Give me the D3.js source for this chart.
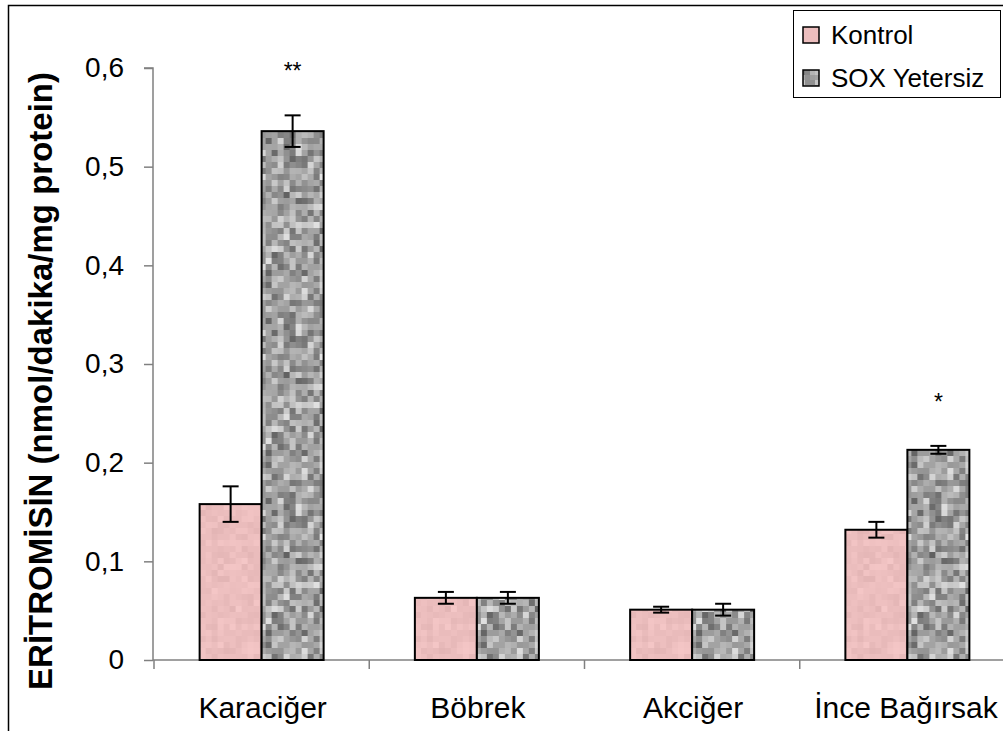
<!DOCTYPE html>
<html>
<head>
<meta charset="utf-8">
<script src="https://cdn.jsdelivr.net/npm/d3@7"></script>
<style>
  html, body { margin: 0; padding: 0; background: #fff; }
  svg { display: block; font-family: "Liberation Sans", Arial, sans-serif; }
</style>
</head>
<body>
<svg id="chart" width="1003" height="731"></svg>
<script>
// ---- data ----
const categories = ["Karaciğer", "Böbrek", "Akciğer", "İnce Bağırsak"];
const seriesNames = ["Kontrol", "SOX Yetersiz"];
const kontrol = [0.158, 0.063, 0.051, 0.132];
const kontrolErr = [0.018, 0.006, 0.003, 0.008];
const sox = [0.536, 0.063, 0.051, 0.213];
const soxErr = [0.016, 0.006, 0.006, 0.004];
const significance = ["**", "", "", "*"];
const yTicks = [0, 0.1, 0.2, 0.3, 0.4, 0.5, 0.6];
const yTitle = "ERİTROMİSİN (nmol/dakika/mg protein)";

// ---- setup ----
const svg = d3.select("#chart");
const defs = svg.append("defs");

// deterministic hash for texture cells (style only)
function hash(i, j, s) {
  let h = (i * 374761393 + j * 668265263 + s * 2246822519) >>> 0;
  h = ((h ^ (h >>> 13)) * 1274126177) >>> 0;
  return ((h ^ (h >>> 16)) >>> 0) / 4294967295;
}
function makePattern(id, cell, n, colorFn, seed) {
  const p = defs.append("pattern").attr("id", id)
    .attr("patternUnits", "userSpaceOnUse")
    .attr("width", cell * n).attr("height", cell * n);
  for (let i = 0; i < n; i++) for (let j = 0; j < n; j++) {
    p.append("rect").attr("x", i * cell).attr("y", j * cell)
      .attr("width", cell).attr("height", cell)
      .attr("fill", colorFn(hash(i, j, seed), hash(j, i, seed + 11)));
  }
}
makePattern("pinkTex", 6, 30, (r, r2) => {
  const d = Math.round((r + r2 - 1) * 10);
  return `rgb(${236 + Math.min(d, 8)},${190 + d},${190 + d})`;
}, 1);
makePattern("grayTex", 6, 30, (r, r2) => {
  const g = Math.round(163 + (r + r2 - 1) * 70);
  return `rgb(${g},${g},${g})`;
}, 7);
makePattern("grayTexLeg", 5, 4, (r, r2) => {
  const g = Math.round(160 + (r + r2 - 1) * 60);
  return `rgb(${g},${g},${g})`;
}, 3);

// frame
svg.append("rect").attr("x", 8.5).attr("y", 5.5).attr("width", 1010).attr("height", 740)
  .attr("fill", "none").attr("stroke", "#000").attr("stroke-width", 1.5);

const x0 = d3.scaleBand().domain(categories).range([154, 1015]).paddingInner(0).paddingOuter(0);
const x1 = d3.scaleBand().domain(seriesNames).range([0, 124]);
const groupOffset = (x0.bandwidth() - 124) / 2;
const y = d3.scaleLinear().domain([0, 0.6]).range([660, 68]);

// axes
const axisColor = "#808080";
const yAxis = svg.append("g").attr("transform", "translate(153,0)")
  .call(d3.axisLeft(y).tickValues(yTicks).tickSize(9).tickPadding(20)
    .tickFormat(d => d3.format(".1f")(d).replace(".", ",").replace(/^0,0$/, "0")));
yAxis.select(".domain").attr("stroke", axisColor).attr("stroke-width", 1.5).attr("d", `M-9,${y(0.6)}H0V${y(0)}`);
yAxis.selectAll(".tick line").attr("stroke", axisColor).attr("stroke-width", 1.5);
yAxis.selectAll(".tick text").attr("font-size", 28).attr("fill", "#000")
  .attr("font-family", "Liberation Sans, Arial, sans-serif");

// x axis line & separators
const bounds = categories.map(c => x0(c)).concat([x0.range()[1]]);
svg.append("line").attr("x1", 153).attr("x2", 1015).attr("y1", y(0)).attr("y2", y(0))
  .attr("stroke", axisColor).attr("stroke-width", 1.5);
svg.append("g").selectAll("line").data(bounds).join("line")
  .attr("x1", d => d).attr("x2", d => d).attr("y1", y(0)).attr("y2", y(0) + 9)
  .attr("stroke", axisColor).attr("stroke-width", 1.5);

// category labels
svg.append("g").selectAll("text").data(categories).join("text")
  .attr("x", d => Math.min(x0(d) + x0.bandwidth() / 2 + 1, 906))
  .attr("y", 718)
  .attr("text-anchor", "middle").attr("font-size", 30).attr("fill", "#000")
  .text(d => d);

// bars
const rows = categories.map((c, i) => ({
  cat: c,
  vals: [
    { s: "Kontrol", v: kontrol[i], e: kontrolErr[i], fill: "url(#pinkTex)" },
    { s: "SOX Yetersiz", v: sox[i], e: soxErr[i], fill: "url(#grayTex)" }
  ],
  sig: significance[i]
}));

const groups = svg.append("g").selectAll("g").data(rows).join("g")
  .attr("transform", d => `translate(${x0(d.cat) + groupOffset},0)`);

groups.selectAll("rect").data(d => d.vals).join("rect")
  .attr("x", d => x1(d.s)).attr("width", x1.bandwidth())
  .attr("y", d => y(d.v)).attr("height", d => y(0) - y(d.v))
  .attr("fill", d => d.fill).attr("stroke", "#000").attr("stroke-width", 2);

// error bars
const eb = groups.selectAll("g.err").data(d => d.vals).join("g").attr("class", "err")
  .attr("stroke", "#000").attr("stroke-width", 2);
eb.append("line")
  .attr("x1", d => x1(d.s) + x1.bandwidth() / 2).attr("x2", d => x1(d.s) + x1.bandwidth() / 2)
  .attr("y1", d => y(d.v + d.e)).attr("y2", d => y(d.v - d.e));
eb.append("line")
  .attr("x1", d => x1(d.s) + x1.bandwidth() / 2 - 8).attr("x2", d => x1(d.s) + x1.bandwidth() / 2 + 8)
  .attr("y1", d => y(d.v + d.e)).attr("y2", d => y(d.v + d.e));
eb.append("line")
  .attr("x1", d => x1(d.s) + x1.bandwidth() / 2 - 8).attr("x2", d => x1(d.s) + x1.bandwidth() / 2 + 8)
  .attr("y1", d => y(d.v - d.e)).attr("y2", d => y(d.v - d.e));

// significance marks
groups.append("text")
  .attr("x", d => x1("SOX Yetersiz") + x1.bandwidth() / 2)
  .attr("y", d => y(d.vals[1].v + d.vals[1].e) - 36)
  .attr("text-anchor", "middle").attr("font-size", 23).attr("fill", "#000")
  .text(d => d.sig);

// y title
svg.append("text")
  .attr("transform", `translate(52,381) rotate(-90)`)
  .attr("text-anchor", "middle").attr("font-size", 33).attr("font-weight", "bold")
  .attr("fill", "#000")
  .text(yTitle);

// legend
const leg = svg.append("g");
leg.append("rect").attr("x", 793.5).attr("y", 10.5).attr("width", 207).attr("height", 87)
  .attr("fill", "#fff").attr("stroke", "#000").attr("stroke-width", 1);
const legFills = ["#ecbebe", "url(#grayTexLeg)"];
leg.selectAll("rect.sw").data(seriesNames).join("rect").attr("class", "sw")
  .attr("x", 803).attr("y", (d, i) => 27 + i * 43).attr("width", 16).attr("height", 16)
  .attr("fill", (d, i) => legFills[i]).attr("stroke", "#000").attr("stroke-width", 1.5);
leg.selectAll("text").data(seriesNames).join("text")
  .attr("x", 831).attr("y", (d, i) => 44 + i * 43)
  .attr("font-size", 26).attr("fill", "#000")
  .text(d => d);
</script>
</body>
</html>
